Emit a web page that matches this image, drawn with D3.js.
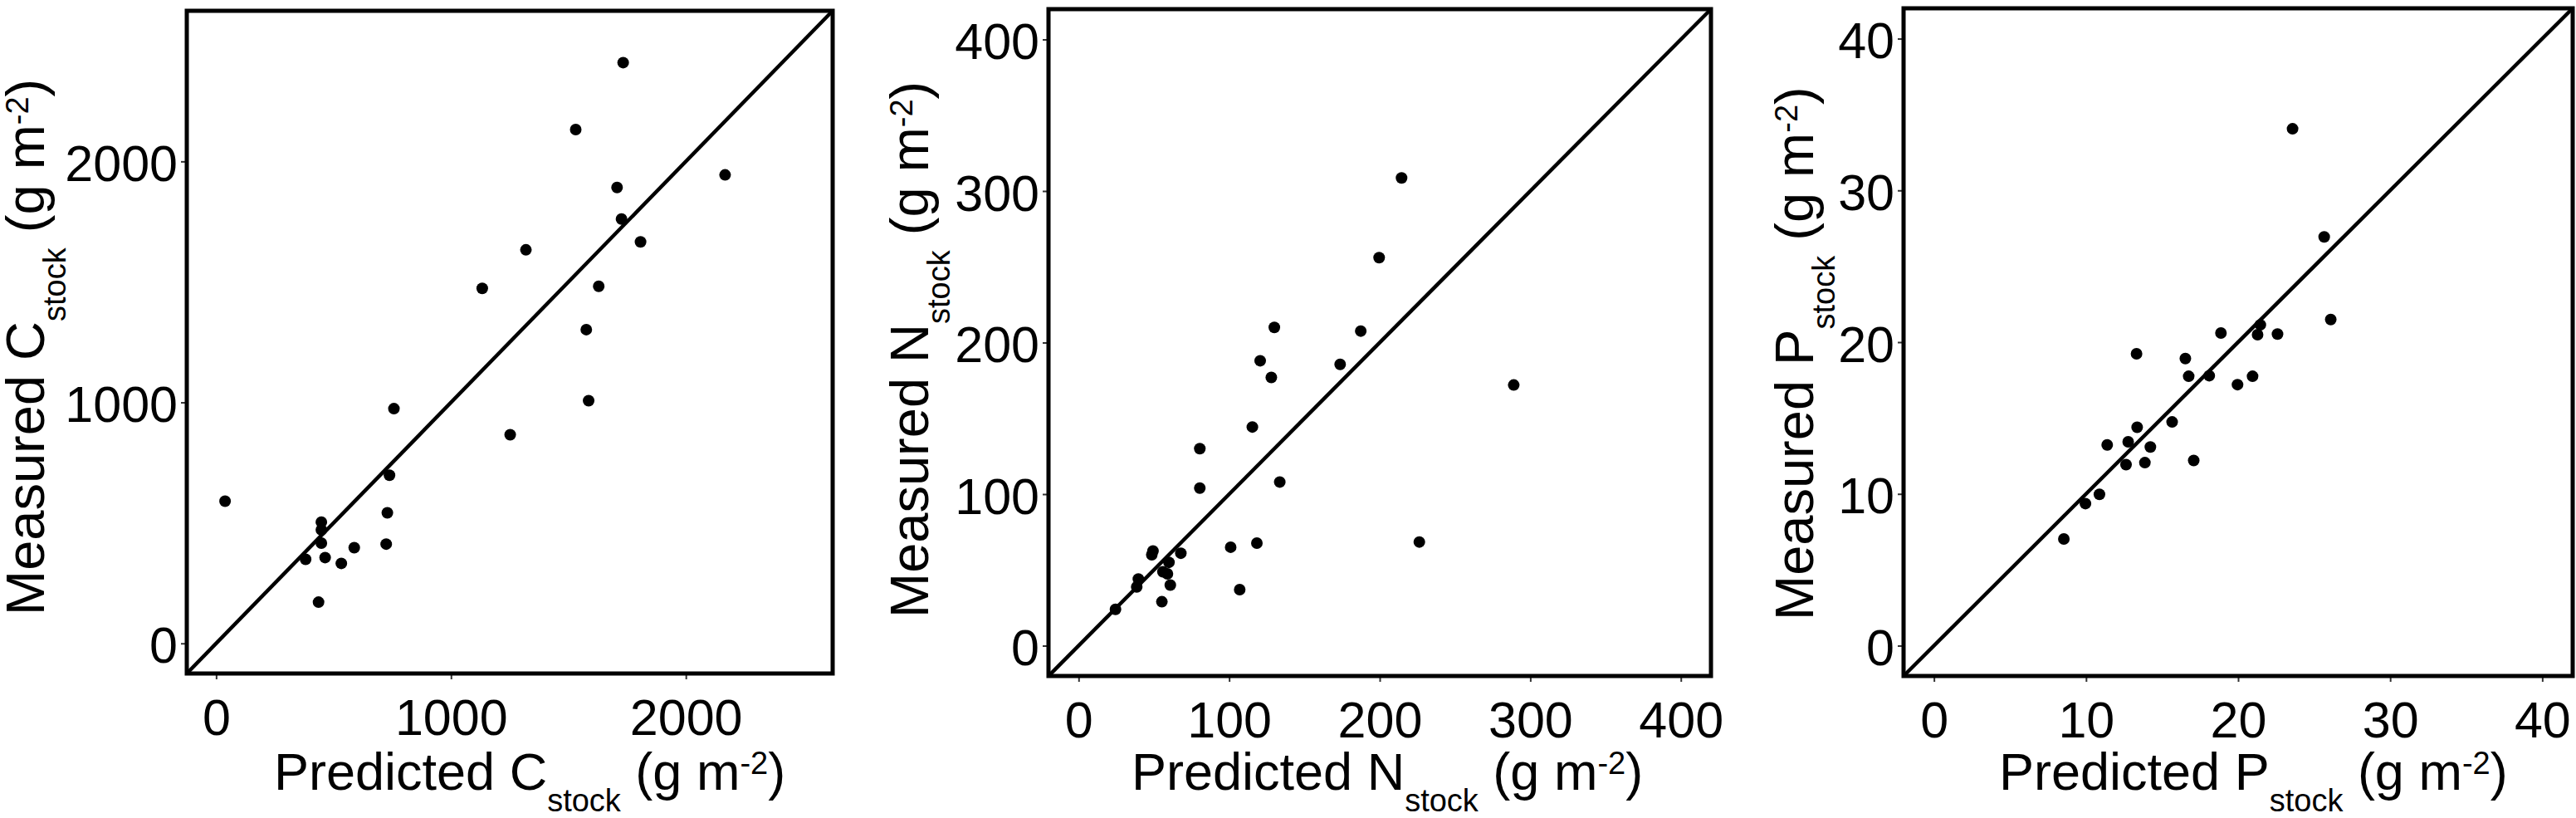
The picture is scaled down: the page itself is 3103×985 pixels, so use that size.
<!DOCTYPE html>
<html>
<head>
<meta charset="utf-8">
<script src="https://cdn.jsdelivr.net/npm/d3@7"></script>
<style>
body { margin: 0; background: #fff; }
svg { display: block; font-family: "Liberation Sans", Arial, sans-serif; }
</style>
</head>
<body>
<svg id="chart" width="3103" height="985"></svg>
<script>
// C stock (g m-2)
const cPredicted = [38, 448, 448, 448, 381, 464, 533, 588, 436, 724, 729, 738, 757, 1133, 1252, 1319, 1531, 1733, 1707, 1726, 1807, 1629, 1576, 1586, 2167];
const cMeasured  = [590, 503, 471, 416, 349, 356, 332, 397, 171, 412, 542, 698, 974, 1473, 866, 1633, 2132, 2410, 1892, 1761, 1666, 1482, 1302, 1007, 1944];
const cTicks = [0, 1000, 2000];
const cLimits = [-125, 2625];

// N stock (g m-2)
const nPredicted = [24.5, 38.6, 39.7, 48.6, 49.4, 55.3, 56, 59, 60, 60.9, 67.9, 80.5, 80.5, 101, 107, 115.4, 118.4, 120.6, 128, 130, 133.6, 173.7, 187.4, 199.6, 214.5, 226.3, 289];
const nMeasured  = [24, 38.8, 44, 60, 62.5, 29, 48.8, 47.4, 55, 40, 61, 130, 104, 65, 37, 144.3, 67.7, 188, 177, 210, 108, 185.6, 207.6, 256, 308.6, 68.4, 172];
const nTicks = [0, 100, 200, 300, 400];
const nLimits = [-20, 420];

// P stock (g m-2)
const pPredicted = [8.54, 9.96, 10.88, 11.39, 12.63, 12.77, 13.32, 13.36, 13.87, 14.23, 15.66, 16.53, 16.75, 17.08, 18.1, 18.87, 19.96, 20.95, 21.28, 21.46, 22.59, 23.58, 25.66, 26.09];
const pMeasured  = [7.03, 9.36, 9.97, 13.23, 11.93, 13.43, 19.23, 14.39, 12.06, 13.09, 14.74, 18.92, 17.75, 12.2, 17.79, 20.6, 17.2, 17.75, 20.49, 21.14, 20.53, 34.06, 26.94, 21.49];
const pTicks = [0, 10, 20, 30, 40];
const pLimits = [-2, 42];

const elements = ['C', 'N', 'P'];

const panels = [
    { el: elements[0], pred: cPredicted, meas: cMeasured, ticks: cTicks, lim: cLimits,
      left: 225, right: 1003, top: 13, bottom: 811, yTitleX: 53, yTitleY: 741, xTitleX: 330 },
    { el: elements[1], pred: nPredicted, meas: nMeasured, ticks: nTicks, lim: nLimits,
      left: 1263, right: 2061, top: 11, bottom: 814, yTitleX: 1118, yTitleY: 744, xTitleX: 1363 },
    { el: elements[2], pred: pPredicted, meas: pMeasured, ticks: pTicks, lim: pLimits,
      left: 2293, right: 3099, top: 10, bottom: 814, yTitleX: 2184, yTitleY: 747, xTitleX: 2408 }
];

const svg = d3.select('#chart');
svg.append('rect').attr('width', 3103).attr('height', 985).attr('fill', '#fff');

// writes "<prefix> X_stock (g m^-2)" into a text element
function axisTitle(text, prefix, el) {
    text.append('tspan').text(prefix + ' ' + el);
    text.append('tspan').attr('font-size', 38).attr('dy', 26).text('stock');
    text.append('tspan').attr('dy', -26).text(' (g m');
    text.append('tspan').attr('font-size', 38).attr('dy', -19).text('-2');
    text.append('tspan').attr('dy', 19).text(')');
}

for (let i = 0; i < panels.length; i++) {
    let p = panels[i];
    let x = d3.scaleLinear().domain(p.lim).range([p.left, p.right]);
    let y = d3.scaleLinear().domain(p.lim).range([p.bottom, p.top]);
    let g = svg.append('g');

    // ticks
    let xAxis = g.append('g')
        .attr('transform', 'translate(0,' + p.bottom + ')')
        .call(d3.axisBottom(x).tickValues(p.ticks).tickSize(7).tickPadding(24).tickFormat(d3.format('d')));
    let yAxis = g.append('g')
        .attr('transform', 'translate(' + p.left + ',0)')
        .call(d3.axisLeft(y).tickValues(p.ticks).tickSize(7).tickPadding(4).tickFormat(d3.format('d')));
    [xAxis, yAxis].forEach(function(a) {
        a.select('.domain').remove();
        a.selectAll('line').attr('stroke', '#333').attr('stroke-width', 2);
        a.selectAll('text').attr('font-size', 61).attr('fill', '#000')
            .attr('font-family', '"Liberation Sans", Arial, sans-serif');
    });
    yAxis.selectAll('text').attr('dy', '0.38em');

    // 1:1 line
    g.append('line')
        .attr('x1', x(p.lim[0])).attr('y1', y(p.lim[0]))
        .attr('x2', x(p.lim[1])).attr('y2', y(p.lim[1]))
        .attr('stroke', '#000').attr('stroke-width', 4.5);

    // points
    g.selectAll('circle')
        .data(p.pred)
        .join('circle')
        .attr('cx', function(d) { return x(d); })
        .attr('cy', function(d, j) { return y(p.meas[j]); })
        .attr('r', 7)
        .attr('fill', '#000');

    // panel border
    g.append('rect')
        .attr('x', p.left).attr('y', p.top)
        .attr('width', p.right - p.left).attr('height', p.bottom - p.top)
        .attr('fill', 'none').attr('stroke', '#000').attr('stroke-width', 5);

    let xt = g.append('text')
        .attr('x', p.xTitleX).attr('y', 951)
        .attr('font-size', 63);
    axisTitle(xt, 'Predicted', p.el);

    let yt = g.append('text')
        .attr('transform', 'translate(' + p.yTitleX + ',' + p.yTitleY + ') rotate(-90)')
        .attr('font-size', 65);
    axisTitle(yt, 'Measured', p.el);
}
</script>
</body>
</html>
